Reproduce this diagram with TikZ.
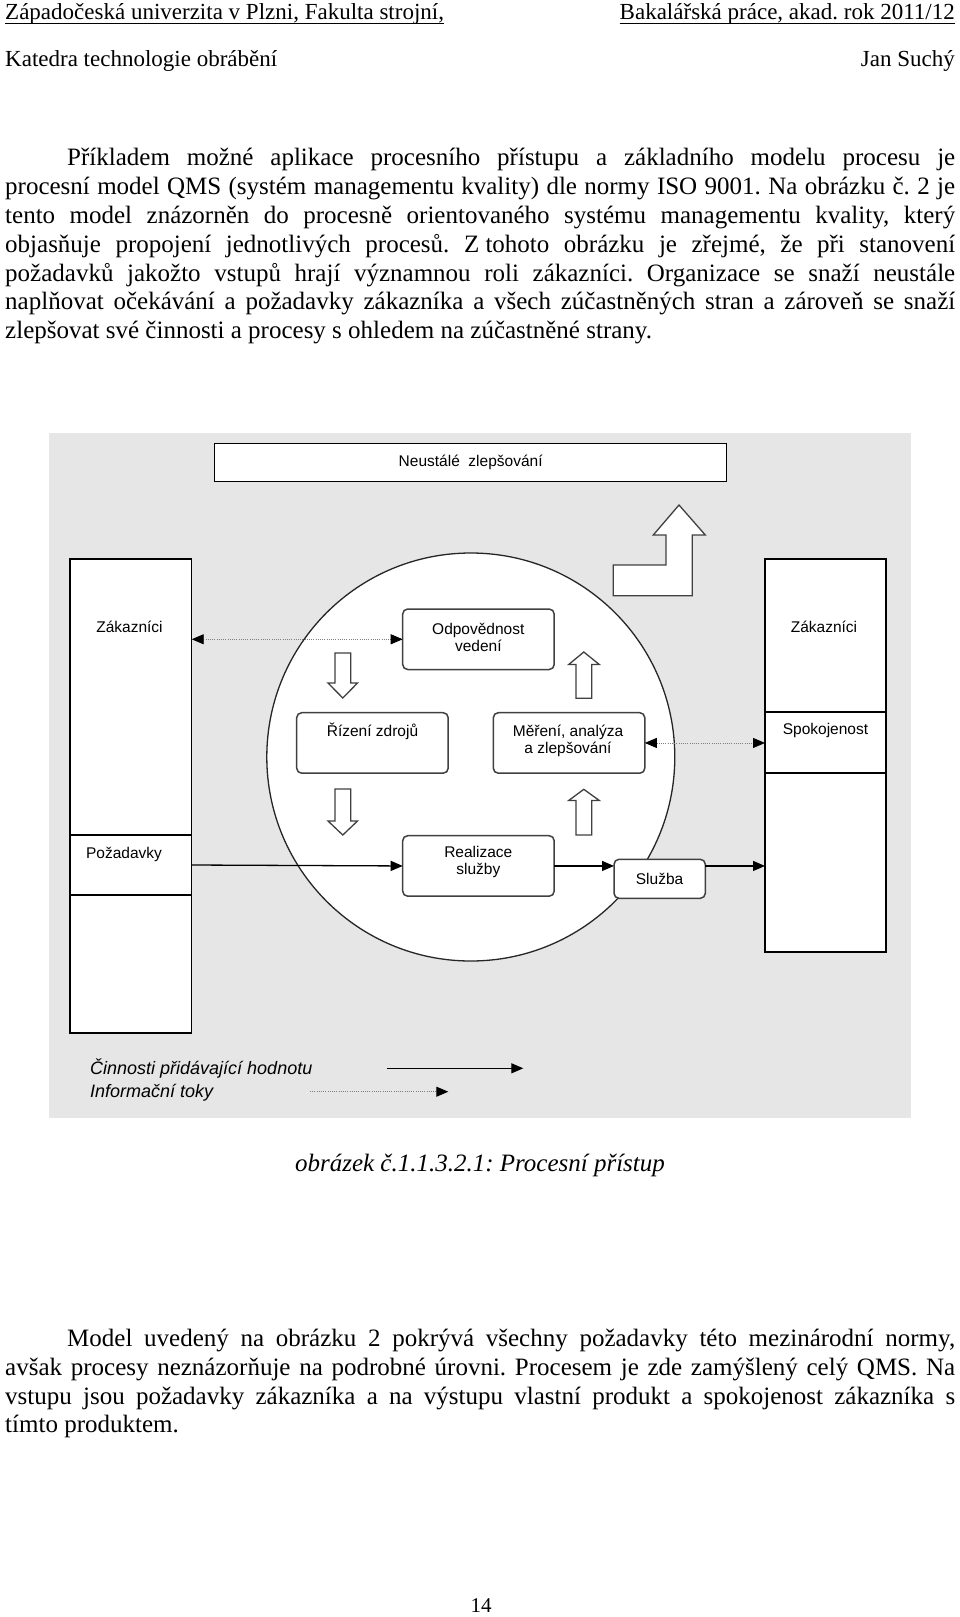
\documentclass[tikz,border=0pt]{standalone}
\usepackage{fontspec}
\setmainfont{Liberation Serif}
\newfontfamily\dsans{Liberation Sans}
\usetikzlibrary{arrows.meta,calc}
\definecolor{bggray}{RGB}{230,230,230}
\frenchspacing
\tikzset{
 cell/.style={draw=black, line width=1.3pt, fill=white, inner sep=0pt, outer sep=0pt, anchor=north west},
 rbox/.style={draw=black!75, line width=1.5pt, fill=white, rounded corners=5pt, inner sep=0pt, outer sep=0pt, anchor=north west, minimum width=151.5pt, minimum height=60.5pt},
 dtxt/.style={font=\dsans\fontsize{15.5}{17}\selectfont, inner sep=0pt, align=center},
 ltxt/.style={font=\dsans\itshape\fontsize{18}{22}\selectfont, inner sep=0pt, anchor=base west},
 body/.style={font=\fontsize{25}{29}\selectfont, inner sep=0pt, anchor=base west},
 head/.style={font=\fontsize{23}{27}\selectfont, inner sep=0pt},
 act/.style={draw=black, line width=1.3pt, -{Triangle[length=12pt,width=10pt]}},
 info/.style={draw=black!50, line width=0.9pt, dash pattern=on 1pt off 1.2pt, {Triangle[length=12pt,width=10pt,color=black]}-{Triangle[length=12pt,width=10pt,color=black]}},
 infoone/.style={draw=black!50, line width=0.9pt, dash pattern=on 1pt off 1.2pt, -{Triangle[length=12pt,width=10pt,color=black]}},
 blk/.style={draw=black!75, line width=1.3pt, fill=white, line join=miter},
}
\begin{document}
\begin{tikzpicture}[x=1pt,y=-1pt]
\useasboundingbox (0,0) rectangle (960,1617);
% header
\node[head, anchor=base west] (h1) at (5,19) {Západočeská univerzita v Plzni, Fakulta strojní,};
\node[head, anchor=base east] (h2) at (955,19) {Bakalářská práce, akad. rok 2011/12};
\draw[line width=1pt] ($(h1.base west)+(0,4.6)$) -- ($(h1.base east)+(0,4.6)$);
\draw[line width=1pt] ($(h2.base west)+(0,4.6)$) -- ($(h2.base east)+(0,4.6)$);
\node[head, anchor=base west] (h3) at (5,66) {Katedra technologie obrábění};
\node[head, anchor=base east] (h4) at (955,66) {Jan Suchý};
% paragraph 1
\node[body] (p1) at (67,165.6) {\makebox[888pt][s]{Příkladem možné aplikace procesního přístupu a základního modelu procesu je}};
\node[body] (p2) at (5,194.4) {\makebox[950pt][s]{procesní model QMS (systém managementu kvality) dle normy ISO 9001. Na obrázku č. 2 je}};
\node[body] (p3) at (5,223.3) {\makebox[950pt][s]{tento model znázorněn do procesně orientovaného systému managementu kvality, který}};
\node[body] (p4) at (5,252.2) {\makebox[950pt][s]{objasňuje propojení jednotlivých procesů. \mbox{Z tohoto} obrázku je zřejmé, že při stanovení}};
\node[body] (p5) at (5,281) {\makebox[950pt][s]{požadavků jakožto vstupů hrají významnou roli zákazníci. Organizace se snaží neustále}};
\node[body] (p6) at (5,309.9) {\makebox[950pt][s]{naplňovat očekávání a požadavky zákazníka a všech zúčastněných stran a zároveň se snaží}};
\node[body] (p7) at (5,338.8) {zlepšovat své činnosti a procesy s ohledem na zúčastněné strany.};
% diagram background
\fill[bggray] (48.5,433) rectangle (910.5,1117.5);
\node[draw=black, line width=1.3pt, fill=white, inner sep=0pt, anchor=north west, minimum width=512pt, minimum height=38pt] (ns) at (214,443) {};
\node[dtxt] at (ns.center) {Neustálé\ \ zlepšování};
% big L arrow
\draw[blk] (613.3,565) -- (666,565) -- (666,535) -- (653.3,535) -- (679,505) -- (705.3,535) -- (692.3,535) -- (692.3,595.7) -- (613.3,595.7) -- cycle;
% circle
\node[circle, draw=black!85, line width=1.3pt, fill=white, minimum size=408pt, inner sep=0pt] (circ) at (470.8,757) {};
% left column
\node[cell, minimum width=121.7pt, minimum height=276pt] (lzak) at (70,559) {};
\node[cell, minimum width=121.7pt, minimum height=60pt] (lpoz) at (70,835) {};
\node[cell, minimum width=121.7pt, minimum height=138pt] (lbot) at (70,895) {};
\node[dtxt] at (129.5,626.7) {Zákazníci};
\node[dtxt] at (124,854) {Požadavky};
% right column
\node[cell, minimum width=121pt, minimum height=153pt] (rzak) at (765,559) {};
\node[cell, minimum width=121pt, minimum height=61pt] (rspo) at (765,712) {};
\node[cell, minimum width=121pt, minimum height=179pt] (rbot) at (765,773) {};
\node[dtxt] at (824,626.7) {Zákazníci};
\node[dtxt] at (825.5,730) {Spokojenost};
% inner process boxes
\node[rbox] (odp) at (402.7,609) {};
\node[dtxt] at (478.3,637) {Odpovědnost\\vedení};
\node[rbox] (riz) at (296.7,712.7) {};
\node[dtxt] at (372.5,731.7) {Řízení zdrojů};
\node[rbox] (mer) at (493.3,712.7) {};
\node[dtxt] at (568,741) {Měření, analýza\\a zlepšování};
\node[rbox] (real) at (402.7,835.7) {};
\node[dtxt] at (478.3,861.7) {Realizace\\služby};
\node[rbox, minimum width=91.3pt, minimum height=39pt] (slu) at (614,859.3) {};
\node[dtxt] at (659.6,879) {Služba};
% hollow block arrows
\draw[blk] (335,653) -- (350.7,653) -- (350.7,683) -- (357.5,683) -- (342.8,698) -- (328,683) -- (335,683) -- cycle;
\draw[blk] (335,789) -- (350.7,789) -- (350.7,821) -- (357.5,821) -- (342.8,835) -- (328,821) -- (335,821) -- cycle;
\draw[blk] (576,698.3) -- (591.7,698.3) -- (591.7,664.5) -- (599.3,664.5) -- (583.8,652) -- (568.7,664.5) -- (576,664.5) -- cycle;
\draw[blk] (576,835) -- (591.7,835) -- (591.7,800.5) -- (599.3,800.5) -- (583.8,789.3) -- (568.7,800.5) -- (576,800.5) -- cycle;
% connectors
\draw[info] (odp.west -| lzak.east) -- (odp.west);
\draw[info] (mer.east) -- (mer.east -| rspo.west);
\draw[act] (lpoz.east) -- (real.west);
\draw[act] (real.east) -- (real.east -| slu.west);
\draw[act] (real.east -| slu.east) -- (real.east -| rbot.west);
% legend
\node[ltxt] (lg1) at (90,1074) {Činnosti přidávající hodnotu};
\node[ltxt] (lg2) at (90,1097) {Informační toky};
\coordinate (la1) at (386.7,1068.3);
\coordinate (la2) at (523.3,1068.3);
\coordinate (lb1) at (310,1091.7);
\coordinate (lb2) at (448.3,1091.7);
\draw[act] (la1) -- (la2);
\draw[infoone] (lb1) -- (lb2);
% caption
\node[font=\itshape\fontsize{25}{29}\selectfont, inner sep=0pt, anchor=base] (cap) at (480,1171) {obrázek č.1.1.3.2.1: Procesní přístup};
% paragraph 2
\node[body] (q1) at (67,1346.2) {\makebox[888pt][s]{Model uvedený na obrázku 2 pokrývá všechny požadavky této mezinárodní normy,}};
\node[body] (q2) at (5,1375.1) {\makebox[950pt][s]{avšak procesy neznázorňuje na podrobné úrovni. Procesem je zde zamýšlený celý QMS. Na}};
\node[body] (q3) at (5,1404) {\makebox[950pt][s]{vstupu jsou požadavky zákazníka a na výstupu vlastní produkt a spokojenost zákazníka s}};
\node[body] (q4) at (5,1432.8) {tímto produktem.};
% page number
\node[font=\fontsize{21}{25}\selectfont, inner sep=0pt, anchor=base] (pg) at (481,1612) {14};
\end{tikzpicture}
\end{document}
